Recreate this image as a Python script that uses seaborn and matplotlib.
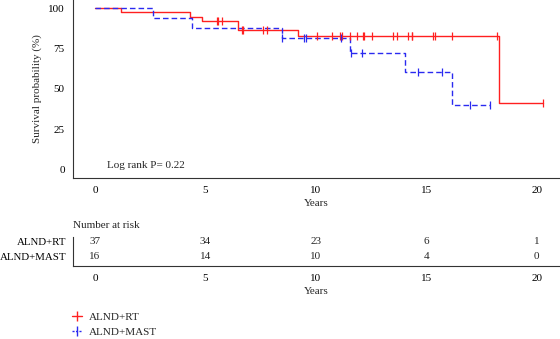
import numpy as np
import pandas as pd
import matplotlib
matplotlib.use("Agg")
import matplotlib.pyplot as plt
from matplotlib.lines import Line2D
import seaborn as sns

# ---- data ----
groups = ["ALND+RT", "ALND+MAST"]
colors = {"ALND+RT": "#FF2020", "ALND+MAST": "#2A2AF0"}

rt_times = [0, 1.16, 4.31, 4.83, 6.45, 9.2, 18.28, 20.26]
rt_surv = [100, 97.3, 94.6, 91.9, 86.2, 82.7, 41.3, 41.3]
rt_censor = [5.51, 5.58, 5.73, 6.67, 6.71, 7.62, 7.77, 10.03, 10.71, 11.09, 11.16,
             11.54, 11.84, 12.11, 12.19, 12.56, 13.5, 13.68, 14.15, 14.33, 14.37,
             15.28, 15.38, 16.18, 18.18, 20.26]

mast_times = [0, 2.61, 4.37, 8.45, 11.54, 14.03, 16.18, 17.9]
mast_surv = [100, 93.75, 87.5, 81.25, 72.2, 60.2, 40.1, 40.1]
mast_censor = [8.45, 9.46, 9.55, 11.13, 11.57, 12.07, 14.6, 15.7, 16.97, 17.9]

risk_times = [0, 5, 10, 15, 20]
risk_rt = [37, 34, 23, 6, 1]
risk_mast = [16, 14, 10, 4, 0]

x_ticks = [0, 5, 10, 15, 20]
y_ticks = [0, 25, 50, 75, 100]
pval_text = "Log rank P= 0.22"

# ---- style ----
sns.set_style("white")
plt.rcParams["font.family"] = ["Liberation Serif", "DejaVu Serif"]
plt.rcParams["font.size"] = 8
plt.rcParams["axes.edgecolor"] = "#333333"

fig = plt.figure(figsize=(5.6, 3.39), dpi=100)
W, H = 560, 339

def ax_rect(x0, y0, x1, y1):
    return [x0 / W, 1 - y1 / H, (x1 - x0) / W, (y1 - y0) / H]

ax = fig.add_axes(ax_rect(73, 0, 560, 178))
axr = fig.add_axes(ax_rect(73, 237, 560, 266))

curves = pd.concat([
    pd.DataFrame({"time": rt_times, "surv": rt_surv, "group": "ALND+RT"}),
    pd.DataFrame({"time": mast_times, "surv": mast_surv, "group": "ALND+MAST"}),
])

sns.lineplot(data=curves, x="time", y="surv", hue="group", style="group",
             hue_order=groups, style_order=groups, palette=colors,
             dashes={"ALND+RT": "", "ALND+MAST": (4, 2.2)},
             estimator=None, sort=False, drawstyle="steps-post",
             linewidth=1.0, legend=False, ax=ax)

def surv_at(times, survs, t):
    idx = np.searchsorted(times, t, side="right") - 1
    return survs[idx]

for g, ct, tt, ss in [("ALND+RT", rt_censor, rt_times, rt_surv),
                      ("ALND+MAST", mast_censor, mast_times, mast_surv)]:
    cy = [surv_at(tt, ss, t) for t in ct]
    ax.plot(ct, cy, linestyle="none", marker="|", markersize=6,
            markeredgewidth=0.9, color=colors[g])

ax.set_xlim(-1, 21.05)
ax.set_ylim(-5, 105)
ax.set_xticks(x_ticks)
ax.set_yticks(y_ticks)
ax.set_xlabel("Years", labelpad=3)
ax.set_ylabel("Survival probability (%)", labelpad=4)
ax.text(0.54, 3, pval_text, ha="left", va="center")
sns.despine(ax=ax)
ax.tick_params(direction="out", length=3, width=0.6, pad=3, colors="#333333",
               labelcolor="black")

# risk table
for i, (vals, row) in enumerate([(risk_rt, 1), (risk_mast, 0)]):
    for t, v in zip(risk_times, vals):
        axr.text(t, row, str(v), ha="center", va="center")
axr.set_xlim(-1, 21.05)
axr.set_ylim(-0.6, 1.33)
axr.set_yticks([1, 0])
axr.set_yticklabels(groups, fontsize=7.8)
axr.set_xticks(x_ticks)
axr.set_xlabel("Years", labelpad=3)
axr.text(0.0, 1.25, "Number at risk", transform=axr.transAxes, ha="left",
         va="bottom")
sns.despine(ax=axr)
axr.tick_params(axis="x", direction="out", length=3, width=0.6, pad=3,
                colors="#333333", labelcolor="black")
axr.tick_params(axis="y", direction="out", length=3, width=0.6, pad=2,
                colors="#333333", labelcolor="black")

handles = [Line2D([], [], color=colors[g], marker="|", markersize=7,
                  linestyle="-" if g == "ALND+RT" else (0, (1.5, 1)),
                  linewidth=1.0) for g in groups]
fig.legend(handles, groups, loc="upper left",
           bbox_to_anchor=(72 / W, 1 - 312 / H), frameon=False,
           handlelength=0.9, handletextpad=0.6, labelspacing=0.45,
           borderpad=0, borderaxespad=0)

fig.savefig("out.png", dpi=100)
